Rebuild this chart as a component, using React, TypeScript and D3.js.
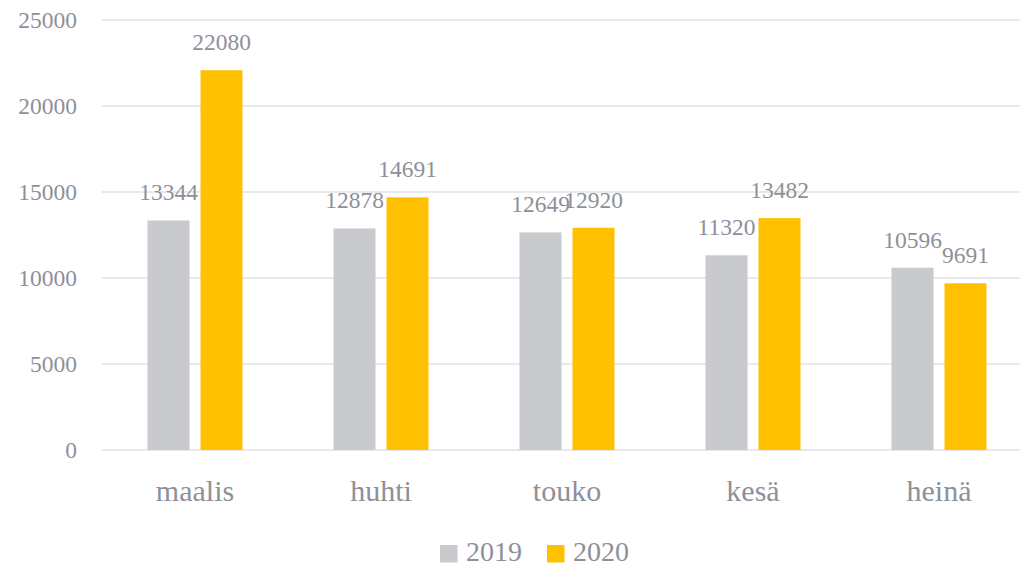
import React from "react";
import * as d3 from "d3";

const categories = ["maalis", "huhti", "touko", "kesä", "heinä"];
const series2019 = [13344, 12878, 12649, 11320, 10596];
const series2020 = [22080, 14691, 12920, 13482, 9691];
const seriesNames = ["2019", "2020"];
const yTicks = [0, 5000, 10000, 15000, 20000, 25000];
const colors = ["#C9CACE", "#FFC000"];

const W = 1020;
const H = 567;
const FONT = "'Liberation Serif', 'DejaVu Serif', serif";
const TEXT = "#8E9099";

export default function App() {
  const x = d3.scaleBand<string>().domain(categories).range([102, 1032]).paddingInner(0).paddingOuter(0);
  const y = d3.scaleLinear().domain([0, 25000]).range([450, 20]);
  const sub = d3.scaleBand<string>().domain(seriesNames).range([0, 95]).paddingInner(11 / 53);
  const seriesData = [series2019, series2020];
  const groupOffset = (x.bandwidth() - 95) / 2;

  return (
    <svg width={W} height={H} style={{ position: "absolute", left: 0, top: 0 }} fontFamily={FONT}>
      <rect width={W} height={H} fill="#fff" />
      {yTicks.map((t) => (
        <g key={t}>
          <line x1={102} x2={W} y1={y(t)} y2={y(t)} stroke="#E2E2E2" strokeWidth={1.6} />
          <text x={77} y={y(t) + 8} textAnchor="end" fontSize={23.5} fill={TEXT}>
            {t}
          </text>
        </g>
      ))}
      {categories.map((c, i) => (
        <g key={c}>
          {seriesNames.map((s, k) => {
            const v = seriesData[k][i];
            const bx = (x(c) as number) + groupOffset + (sub(s) as number);
            const bw = sub.bandwidth();
            return (
              <g key={s}>
                <rect x={bx} y={y(v)} width={bw} height={y(0) - y(v)} fill={colors[k]} />
                <text x={bx + bw / 2} y={y(v) - 20} textAnchor="middle" fontSize={23.5} fill={TEXT}>
                  {v}
                </text>
              </g>
            );
          })}
          <text x={(x(c) as number) + x.bandwidth() / 2} y={501} textAnchor="middle" fontSize={30} fill={TEXT}>
            {c}
          </text>
        </g>
      ))}
      {seriesNames.map((s, k) => {
        const lx = [440, 547][k];
        return (
          <g key={s}>
            <rect x={lx} y={545} width={17.5} height={17.5} fill={colors[k]} />
            <text x={lx + 26} y={561} fontSize={28} fill={TEXT}>
              {s}
            </text>
          </g>
        );
      })}
    </svg>
  );
}
